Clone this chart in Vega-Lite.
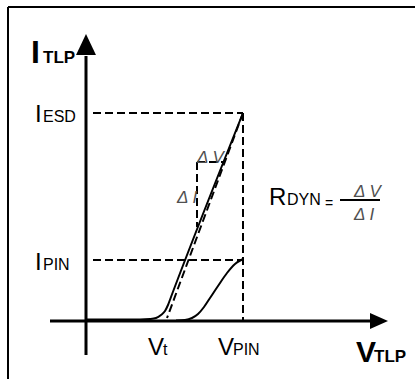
{
  "$schema": "https://vega.github.io/schema/vega-lite/v6.json",
  "width": 420,
  "height": 379,
  "autosize": "none",
  "padding": 0,
  "background": "white",
  "config": {"view": {"stroke": null}},
  "datasets": {
    "frame": [
      {"v": -78, "i": 314, "v2": 329, "i2": 314},
      {"v": -78, "i": 314, "v2": -78, "i2": -58}
    ],
    "axes": [
      {"v": 0, "i": 265, "v2": 0, "i2": -34},
      {"v": -36, "i": 0, "v2": 284, "i2": 0}
    ],
    "bar": [
      {"v": 254, "i": 121, "v2": 294, "i2": 121}
    ],
    "dashed": [
      {"v": 7, "i": 208, "v2": 157, "i2": 208},
      {"v": 157, "i": 208, "v2": 157, "i2": 0},
      {"v": 7, "i": 61, "v2": 157, "i2": 61},
      {"v": 157, "i": 208, "v2": 81, "i2": 3},
      {"v": 111, "i": 159, "v2": 137, "i2": 159},
      {"v": 111, "i": 159, "v2": 111, "i2": 94}
    ],
    "curves": [
      {"c": "A", "v": 0, "i": 1.5},
      {"c": "A", "v": 54, "i": 1.5},
      {"c": "A", "v": 64, "i": 2},
      {"c": "A", "v": 70, "i": 3},
      {"c": "A", "v": 75, "i": 6},
      {"c": "A", "v": 79, "i": 10},
      {"c": "A", "v": 82, "i": 16},
      {"c": "A", "v": 85, "i": 24},
      {"c": "A", "v": 157, "i": 208},
      {"c": "B", "v": 90, "i": 0.5},
      {"c": "B", "v": 99, "i": 1},
      {"c": "B", "v": 106, "i": 3},
      {"c": "B", "v": 112, "i": 7},
      {"c": "B", "v": 118, "i": 14},
      {"c": "B", "v": 124, "i": 23},
      {"c": "B", "v": 132, "i": 35},
      {"c": "B", "v": 141, "i": 48},
      {"c": "B", "v": 149, "i": 57},
      {"c": "B", "v": 157, "i": 62}
    ],
    "arrowUp": [{"v": 0, "i": 276.5}],
    "arrowRight": [{"v": 293, "i": 0}],
    "bigBold": [{"v": -55, "i": 258, "t": "I"}],
    "bigBoldV": [{"v": 270, "i": -41, "t": "V"}],
    "smallBold": [
      {"v": -43, "i": 258, "t": "TLP"},
      {"v": 288, "i": -41, "t": "TLP"}
    ],
    "big": [
      {"v": -51, "i": 199, "t": "I"},
      {"v": -51, "i": 51, "t": "I"},
      {"v": 62, "i": -34, "t": "V"},
      {"v": 132, "i": -34, "t": "V"},
      {"v": 183, "i": 116, "t": "R"}
    ],
    "small": [
      {"v": -43, "i": 199, "t": "ESD"},
      {"v": -43, "i": 51, "t": "PIN"},
      {"v": 77, "i": -34, "t": "t"},
      {"v": 147, "i": -34, "t": "PIN"},
      {"v": 201, "i": 116, "t": "DYN"}
    ],
    "eq": [{"v": 239, "i": 113, "t": "="}],
    "delta": [
      {"v": 268, "i": 124, "t": "Δ V"},
      {"v": 268, "i": 101, "t": "Δ I"},
      {"v": 111, "i": 158, "t": "Δ V"},
      {"v": 91, "i": 118, "t": "Δ I"}
    ]
  },
  "layer": [
    {
      "data": {"name": "frame"},
      "mark": {"type": "rule", "color": "black", "strokeWidth": 2},
      "encoding": {
        "x": {"field": "v", "type": "quantitative", "scale": {"domain": [-86, 334], "nice": false, "zero": false}, "axis": null},
        "y": {"field": "i", "type": "quantitative", "scale": {"domain": [-58, 321], "nice": false, "zero": false}, "axis": null},
        "x2": {"field": "v2"},
        "y2": {"field": "i2"}
      }
    },
    {
      "data": {"name": "dashed"},
      "mark": {"type": "rule", "color": "black", "strokeWidth": 2, "strokeDash": [8, 4]},
      "encoding": {
        "x": {"field": "v", "type": "quantitative", "axis": null},
        "y": {"field": "i", "type": "quantitative", "axis": null},
        "x2": {"field": "v2"},
        "y2": {"field": "i2"}
      }
    },
    {
      "data": {"name": "axes"},
      "mark": {"type": "rule", "color": "black", "strokeWidth": 3},
      "encoding": {
        "x": {"field": "v", "type": "quantitative", "axis": null},
        "y": {"field": "i", "type": "quantitative", "axis": null},
        "x2": {"field": "v2"},
        "y2": {"field": "i2"}
      }
    },
    {
      "data": {"name": "bar"},
      "mark": {"type": "rule", "color": "black", "strokeWidth": 2},
      "encoding": {
        "x": {"field": "v", "type": "quantitative", "axis": null},
        "y": {"field": "i", "type": "quantitative", "axis": null},
        "x2": {"field": "v2"},
        "y2": {"field": "i2"}
      }
    },
    {
      "data": {"name": "curves"},
      "mark": {"type": "line", "color": "black", "strokeWidth": 2, "interpolate": "monotone"},
      "encoding": {
        "x": {"field": "v", "type": "quantitative", "axis": null},
        "y": {"field": "i", "type": "quantitative", "axis": null},
        "detail": {"field": "c"}
      }
    },
    {
      "data": {"name": "arrowUp"},
      "mark": {"type": "point", "shape": "M0,-1L0.95,1L-0.95,1Z", "size": 441, "filled": true, "color": "black", "opacity": 1, "strokeWidth": 0},
      "encoding": {
        "x": {"field": "v", "type": "quantitative", "axis": null},
        "y": {"field": "i", "type": "quantitative", "axis": null}
      }
    },
    {
      "data": {"name": "arrowRight"},
      "mark": {"type": "point", "shape": "M1,0L-1,-0.9L-1,0.9Z", "size": 324, "filled": true, "color": "black", "opacity": 1, "strokeWidth": 0},
      "encoding": {
        "x": {"field": "v", "type": "quantitative", "axis": null},
        "y": {"field": "i", "type": "quantitative", "axis": null}
      }
    },
    {
      "data": {"name": "bigBold"},
      "mark": {"type": "text", "align": "left", "baseline": "alphabetic", "font": "Liberation Sans", "fontSize": 32, "fontWeight": "bold", "color": "black"},
      "encoding": {
        "x": {"field": "v", "type": "quantitative", "axis": null},
        "y": {"field": "i", "type": "quantitative", "axis": null},
        "text": {"field": "t"}
      }
    },
    {
      "data": {"name": "bigBoldV"},
      "mark": {"type": "text", "align": "left", "baseline": "alphabetic", "font": "Liberation Sans", "fontSize": 30, "fontWeight": "bold", "color": "black"},
      "encoding": {
        "x": {"field": "v", "type": "quantitative", "axis": null},
        "y": {"field": "i", "type": "quantitative", "axis": null},
        "text": {"field": "t"}
      }
    },
    {
      "data": {"name": "smallBold"},
      "mark": {"type": "text", "align": "left", "baseline": "alphabetic", "font": "Liberation Sans", "fontSize": 17, "fontWeight": "bold", "color": "black"},
      "encoding": {
        "x": {"field": "v", "type": "quantitative", "axis": null},
        "y": {"field": "i", "type": "quantitative", "axis": null},
        "text": {"field": "t"}
      }
    },
    {
      "data": {"name": "big"},
      "mark": {"type": "text", "align": "left", "baseline": "alphabetic", "font": "Liberation Sans", "fontSize": 24, "color": "black"},
      "encoding": {
        "x": {"field": "v", "type": "quantitative", "axis": null},
        "y": {"field": "i", "type": "quantitative", "axis": null},
        "text": {"field": "t"}
      }
    },
    {
      "data": {"name": "small"},
      "mark": {"type": "text", "align": "left", "baseline": "alphabetic", "font": "Liberation Sans", "fontSize": 16, "color": "black"},
      "encoding": {
        "x": {"field": "v", "type": "quantitative", "axis": null},
        "y": {"field": "i", "type": "quantitative", "axis": null},
        "text": {"field": "t"}
      }
    },
    {
      "data": {"name": "eq"},
      "mark": {"type": "text", "align": "left", "baseline": "alphabetic", "font": "Liberation Sans", "fontSize": 14, "color": "black"},
      "encoding": {
        "x": {"field": "v", "type": "quantitative", "axis": null},
        "y": {"field": "i", "type": "quantitative", "axis": null},
        "text": {"field": "t"}
      }
    },
    {
      "data": {"name": "delta"},
      "mark": {"type": "text", "align": "left", "baseline": "alphabetic", "font": "Liberation Sans", "fontSize": 17, "fontStyle": "italic", "color": "#505050"},
      "encoding": {
        "x": {"field": "v", "type": "quantitative", "axis": null},
        "y": {"field": "i", "type": "quantitative", "axis": null},
        "text": {"field": "t"}
      }
    }
  ]
}
